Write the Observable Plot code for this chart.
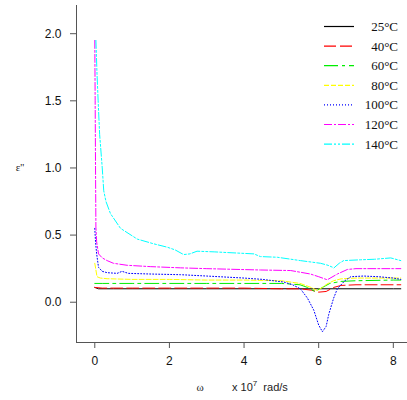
<!DOCTYPE html>
<html>
<head>
<meta charset="utf-8">
<script src="https://cdn.jsdelivr.net/npm/d3@7"></script>
<script src="https://cdn.jsdelivr.net/npm/@observablehq/plot@0.6"></script>
<style>
  html, body { margin: 0; padding: 0; background: #fff; }
  #chart { width: 407px; height: 400px; }
</style>
</head>
<body>
<div id="chart"></div>
<script>
// ---- data ----
const xTicks = [0, 2, 4, 6, 8];
const yTicks = [0.0, 0.5, 1.0, 1.5, 2.0];
const seriesNames = ["25°C", "40°C", "60°C", "80°C", "100°C", "120°C", "140°C"];
const seriesColors = ["#000000", "#ff0000", "#00ee00", "#ffff00", "#0000ff", "#ff00ff", "#00ffff"];
const seriesDash = ["none", "12,4", "14,4,3,4", "5,2", "1,2", "8,2,2,2", "8,2,2,2,2,2"];

const x25 = [0, 0.1, 0.5, 1, 2, 3, 4, 5, 5.5, 6, 6.5, 7, 8, 8.2];
const y25 = [0.11, 0.10, 0.10, 0.10, 0.10, 0.10, 0.10, 0.10, 0.10, 0.10, 0.10, 0.10, 0.10, 0.10];

const x40 = [0, 0.2, 1, 2, 3, 4, 5, 5.5, 5.8, 6.0, 6.2, 6.4, 6.6, 7, 8, 8.2];
const y40 = [0.11, 0.105, 0.105, 0.105, 0.105, 0.105, 0.10, 0.10, 0.09, 0.075, 0.08, 0.11, 0.125, 0.13, 0.13, 0.13];

const x60 = [0, 0.2, 1, 2, 3, 4, 5, 5.5, 5.7, 5.9, 6.1, 6.3, 6.6, 7, 8, 8.2];
const y60 = [0.14, 0.14, 0.14, 0.14, 0.14, 0.14, 0.14, 0.13, 0.11, 0.08, 0.11, 0.14, 0.155, 0.16, 0.165, 0.165];

const x80 = [0, 0.03, 0.06, 0.15, 0.33, 1, 2, 3, 4, 5, 5.5, 5.8, 5.96, 6.1, 6.23, 6.4, 6.6, 7, 8, 8.2];
const y80 = [0.29, 0.24, 0.19, 0.18, 0.175, 0.17, 0.17, 0.165, 0.165, 0.16, 0.14, 0.11, 0.087, 0.11, 0.137, 0.16, 0.174, 0.18, 0.18, 0.18];

const x100 = [0, 0.02, 0.05, 0.1, 0.2, 0.33, 0.6, 0.73, 0.9, 1.5, 2.3, 3, 4, 4.5, 5.07, 5.3, 5.51, 5.7, 5.87, 6.0, 6.1, 6.2, 6.27, 6.4, 6.5, 6.7, 6.86, 7.2, 7.6, 8, 8.2];
const y100 = [0.55, 0.45, 0.36, 0.26, 0.23, 0.22, 0.215, 0.23, 0.215, 0.21, 0.205, 0.195, 0.18, 0.17, 0.15, 0.13, 0.1, 0.03, -0.06, -0.17, -0.22, -0.18, -0.09, 0.03, 0.1, 0.16, 0.19, 0.195, 0.19, 0.18, 0.17];

const x120 = [0, 0.01, 0.02, 0.03, 0.05, 0.1, 0.2, 0.33, 0.5, 0.87, 1.5, 2.3, 3, 4.44, 5.25, 5.78, 6.0, 6.23, 6.5, 6.77, 7, 8, 8.2];
const y120 = [1.95, 1.5, 1.0, 0.56, 0.45, 0.36, 0.33, 0.31, 0.29, 0.275, 0.265, 0.256, 0.25, 0.24, 0.236, 0.21, 0.19, 0.167, 0.21, 0.244, 0.25, 0.25, 0.25];

const x140 = [0.03, 0.06, 0.09, 0.13, 0.2, 0.24, 0.3, 0.42, 0.69, 1.14, 1.58, 1.94, 2.15, 2.38, 2.55, 2.74, 3.2, 3.55, 4.26, 4.44, 4.89, 5.51, 6.05, 6.25, 6.41, 6.55, 6.67, 7.12, 7.5, 7.93, 8.2];
const y140 = [1.95, 1.7, 1.5, 1.25, 1.0, 0.83, 0.75, 0.66, 0.55, 0.47, 0.435, 0.41, 0.39, 0.355, 0.36, 0.38, 0.375, 0.37, 0.36, 0.34, 0.335, 0.31, 0.29, 0.275, 0.256, 0.29, 0.31, 0.316, 0.32, 0.33, 0.31];

const xDomain = [-0.49, 8.38];
const yDomain = [-0.30, 2.21];

// ---- build tables ----
const xs = [x25, x40, x60, x80, x100, x120, x140];
const ys = [y25, y40, y60, y80, y100, y120, y140];
const series = seriesNames.map((name, i) => ({
  name, color: seriesColors[i], dash: seriesDash[i],
  data: xs[i].map((x, j) => ({x, y: ys[i][j]}))
}));

const axisColor = "#555";
const fontSans = "'Liberation Sans', Arial, sans-serif";
const fontSerif = "'Liberation Serif', 'Times New Roman', serif";

const chart = Plot.plot({
  width: 407,
  height: 400,
  marginLeft: 76,
  marginRight: 0,
  marginTop: 5,
  marginBottom: 58,
  style: {fontFamily: fontSans, fontSize: "12px", background: "#fff", color: "#111"},
  x: {domain: xDomain, ticks: xTicks},
  y: {domain: yDomain, ticks: yTicks},
  marks: [
    ...series.map(s => Plot.line(s.data, {
      x: "x", y: "y", stroke: s.color, strokeWidth: 1,
      strokeDasharray: s.dash === "none" ? undefined : s.dash
    })),
    Plot.ruleX([xDomain[0]], {stroke: axisColor, strokeWidth: 1}),
    Plot.ruleY([yDomain[0]], {stroke: axisColor, strokeWidth: 1}),
    Plot.axisX(xTicks, {tickSize: 6, tickPadding: 8, label: null, stroke: axisColor, fill: "#111"}),
    Plot.axisY(yTicks, {tickSize: 6, tickPadding: 9, label: null, stroke: axisColor, fill: "#111",
      tickFormat: d => d.toFixed(1)})
  ]
});

document.getElementById("chart").appendChild(chart);

// ---- legend and axis titles ----
const svg = d3.select(chart);
const leg = svg.append("g").attr("class", "legend");
series.forEach((s, i) => {
  const cy = 26.5 + i * 19.6;
  leg.append("line")
    .attr("x1", 324).attr("x2", 354).attr("y1", cy).attr("y2", cy)
    .attr("stroke", s.color).attr("stroke-width", 1.2)
    .attr("stroke-dasharray", s.dash === "none" ? null : s.dash);
  leg.append("text")
    .attr("x", 398).attr("y", cy).attr("dy", "0.35em")
    .attr("text-anchor", "end")
    .attr("font-family", fontSerif).attr("font-size", "13px").attr("fill", "#111")
    .text(s.name);
});

svg.append("text")
  .attr("x", 20).attr("y", 171).attr("text-anchor", "middle")
  .attr("font-family", fontSerif).attr("font-size", "11px").attr("fill", "#222")
  .text("ε''");

svg.append("text")
  .attr("x", 200).attr("y", 391).attr("text-anchor", "middle")
  .attr("font-family", fontSerif).attr("font-size", "11px").attr("fill", "#222")
  .text("ω");

const xl = svg.append("text")
  .attr("x", 232).attr("y", 391).attr("text-anchor", "start")
  .attr("font-family", fontSans).attr("font-size", "11px").attr("fill", "#222");
xl.append("tspan").text("x 10");
xl.append("tspan").attr("dy", "-5").attr("font-size", "8px").text("7");
xl.append("tspan").attr("dy", "5").text("\u00a0 rad/s");
</script>
</body>
</html>
